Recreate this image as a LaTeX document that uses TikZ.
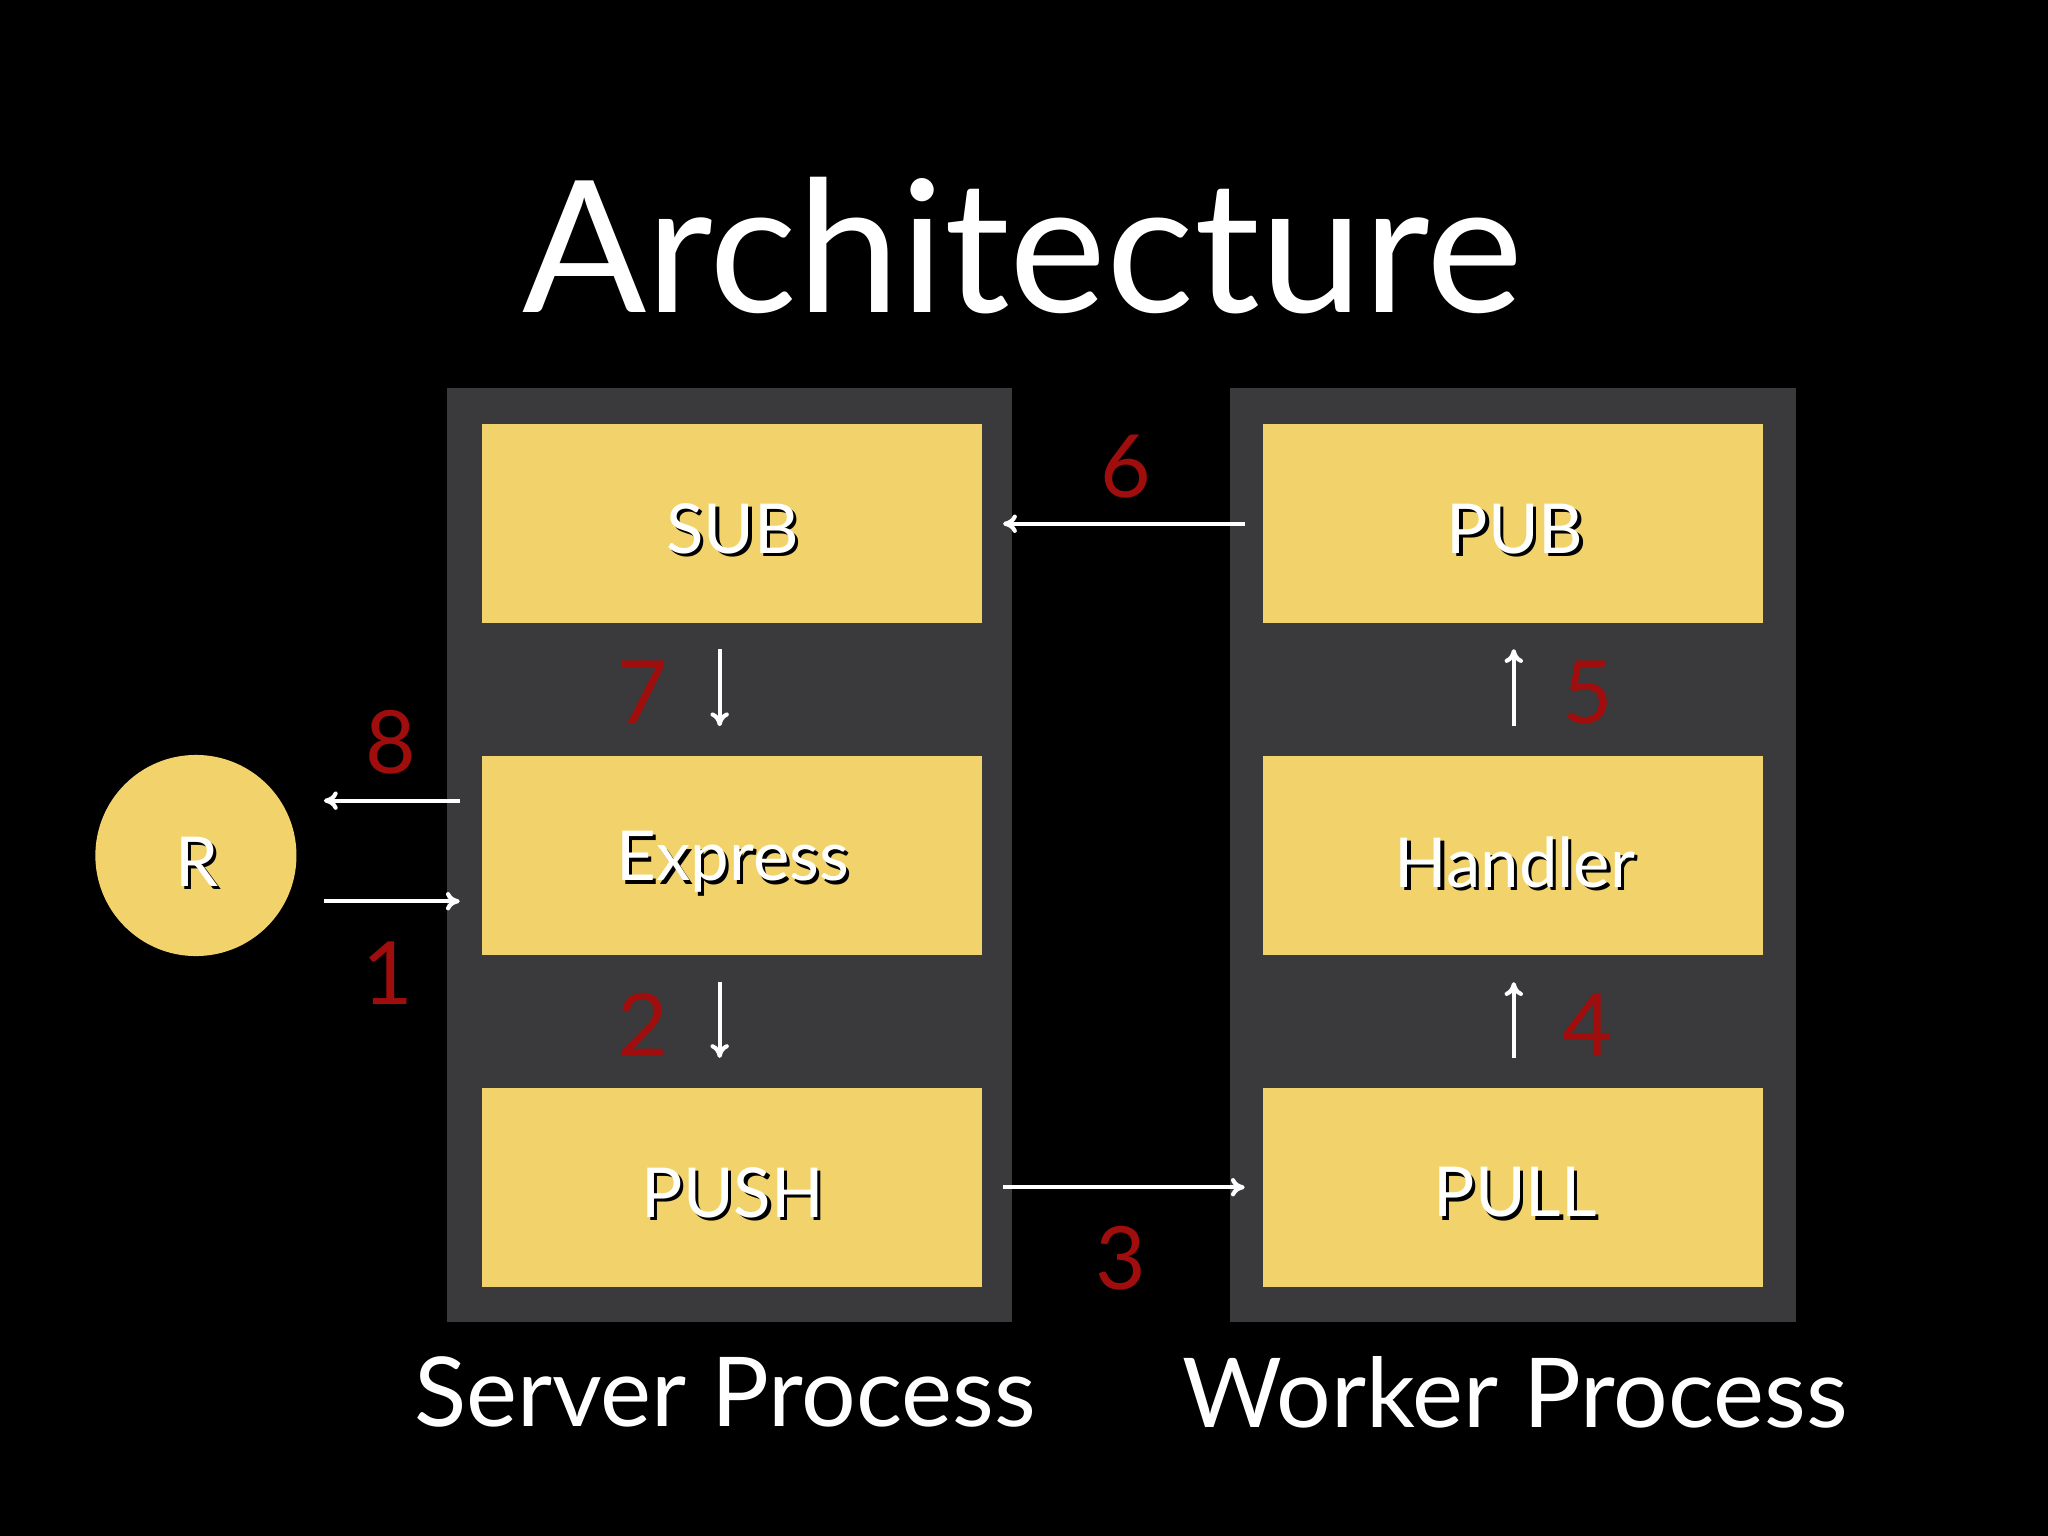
\documentclass[tikz,border=0pt]{standalone}
\usepackage{fontspec}
\setmainfont{Lato}
\usetikzlibrary{arrows.meta}
\definecolor{panel}{HTML}{3A393B}
\definecolor{note}{HTML}{F2D36B}
\definecolor{num}{HTML}{A00D0D}
\begin{document}
\begin{tikzpicture}[x=0.01cm,y=-0.01cm,
  pnl/.style={fill=panel,draw=none},
  box/.style={fill=note,draw=none},
  lab/.style={text=white,font=\fontsize{15}{18}\selectfont},
  shd/.style={text=black,font=\fontsize{15}{18}\selectfont},
  nm/.style={text=num,font=\fontsize{19}{22}\selectfont},
  ar/.style={draw=white,line width=0.9pt,-{To[length=3pt,width=4pt]}}]
\fill[black] (0,0) rectangle (1568,1176);
\node[text=white,font=\fontsize{40}{46}\selectfont] (title) at (783,188) {Architecture};
\fill[pnl] (342,297) rectangle (775,1012);
\fill[pnl] (942,297) rectangle (1375,1012);
\node[box,minimum width=383*0.01cm,minimum height=152*0.01cm] (sub) at (560.5,401) {};
\node[box,minimum width=383*0.01cm,minimum height=152*0.01cm] (exp) at (560.5,655) {};
\node[box,minimum width=383*0.01cm,minimum height=152*0.01cm] (push) at (560.5,909) {};
\node[box,minimum width=383*0.01cm,minimum height=152*0.01cm] (pub) at (1158.5,401) {};
\node[box,minimum width=383*0.01cm,minimum height=152*0.01cm] (hnd) at (1158.5,655) {};
\node[box,minimum width=383*0.01cm,minimum height=152*0.01cm] (pull) at (1158.5,909) {};
\node[circle,fill=note,minimum size=154*0.01cm,inner sep=0] (r) at (150,655) {};
\foreach \n/\t/\x/\y in {a/SUB/561/405,b/Express/561/660,c/PUSH/561/913,d/PUB/1160/405,e/Handler/1160/660,f/PULL/1160/913,g/R/151/660}{
  \node[shd] (s\n) at (\x+2.5,\y+2.5) {\t};
  \node[lab] (t\n) at (\x,\y) {\t};
}
\coordinate (p6a) at (953,401); \coordinate (p6b) at (768,401);
\coordinate (p7a) at (551,497); \coordinate (p7b) at (551,556);
\coordinate (p2a) at (551,752); \coordinate (p2b) at (551,810);
\coordinate (p3a) at (768,909); \coordinate (p3b) at (953,909);
\coordinate (p4a) at (1159,810); \coordinate (p4b) at (1159,752);
\coordinate (p5a) at (1159,556); \coordinate (p5b) at (1159,497);
\coordinate (p8a) at (352,613); \coordinate (p8b) at (248,613);
\coordinate (p1a) at (248,690); \coordinate (p1b) at (352,690);
\foreach \k in {6,7,2,3,4,5,8,1}{\draw[ar] (p\k a) -- (p\k b);}
\node[nm] (n6) at (862,357) {6};
\node[nm] (n7) at (492,530) {7};
\node[nm] (n2) at (492,785) {2};
\node[nm] (n3) at (858,963) {3};
\node[nm] (n4) at (1216,785) {4};
\node[nm] (n5) at (1216,530) {5};
\node[nm] (n8) at (299,568) {8};
\node[nm] (n1) at (297,745) {1};
\node[text=white,font=\fontsize{21}{25}\selectfont] (sp) at (555,1066) {Server Process};
\node[text=white,font=\fontsize{21}{25}\selectfont] (wp) at (1160,1066) {Worker Process};
\end{tikzpicture}
\end{document}
